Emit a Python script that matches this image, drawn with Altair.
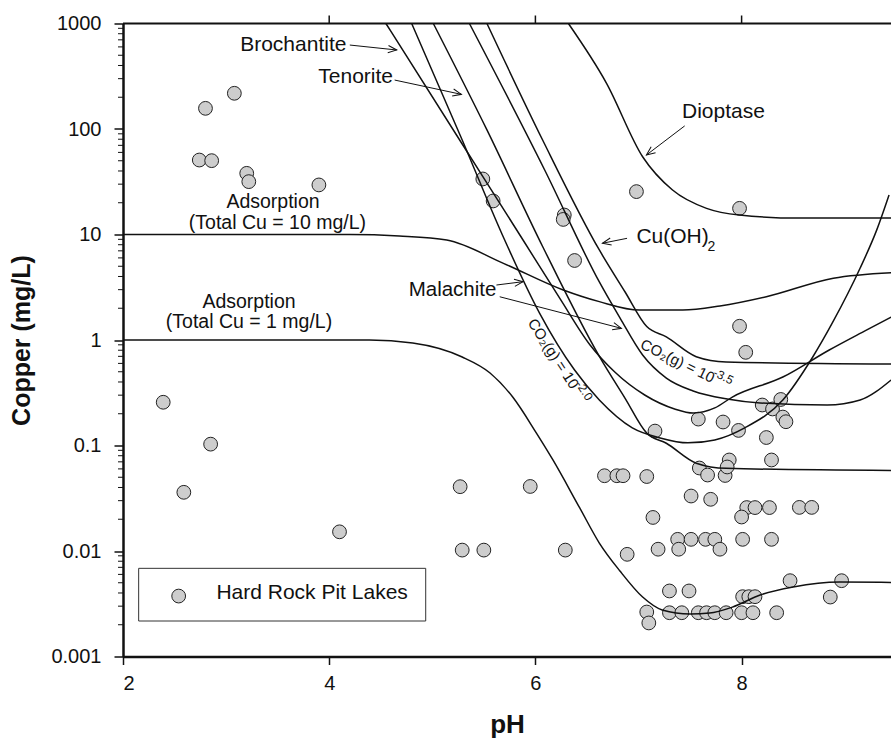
import altair as alt
import pandas as pd

FONT = "Liberation Sans, Arial, DejaVu Sans, sans-serif"
INK = "#111111"

# ---------------- Hard Rock Pit Lakes samples ----------------
pit_ph = [2.80, 3.08, 2.74, 2.86, 3.20, 3.22, 3.90,
          2.39, 2.85, 2.59, 4.10,
          5.27, 5.95, 5.29, 5.50, 6.29,
          5.49, 5.59, 6.28, 6.27, 6.38, 6.98, 7.98, 7.98, 8.04,
          7.16, 7.58, 7.82, 7.97, 8.20, 8.30, 8.38, 8.40, 8.43, 8.24, 8.29,
          7.59, 7.67, 7.84, 7.88, 7.86, 6.67, 6.79, 6.85, 7.08,
          7.51, 7.70, 8.05, 8.13, 8.27, 8.56, 8.68, 7.14, 8.00,
          7.38, 7.51, 7.65, 7.74, 8.01, 8.29, 7.19, 7.39, 7.79, 6.89,
          7.30, 7.49, 8.01, 8.07, 8.13, 8.47, 8.97, 8.86,
          7.08, 7.10, 7.30, 7.42, 7.58, 7.66, 7.74, 7.85, 8.00, 8.11, 8.34]
pit_cu = [157, 218, 50.8, 50.1, 38.0, 31.7, 29.5,
          0.257, 0.103, 0.036, 0.0152,
          0.0407, 0.0409, 0.0102, 0.0102, 0.0102,
          33.6, 20.8, 15.3, 13.9, 5.67, 25.5, 17.7, 1.35, 0.764,
          0.137, 0.178, 0.167, 0.139, 0.242, 0.222, 0.273, 0.186, 0.168, 0.119, 0.0729,
          0.0612, 0.0525, 0.052, 0.0729, 0.0626, 0.0517, 0.0517, 0.0517, 0.0508,
          0.0332, 0.0309, 0.0258, 0.0258, 0.0258, 0.0259, 0.0259, 0.0208, 0.021,
          0.0129, 0.0129, 0.0129, 0.0129, 0.0129, 0.0129, 0.0104, 0.0104, 0.0104, 0.0093,
          0.00418, 0.00418, 0.00369, 0.00369, 0.00369, 0.00523, 0.00523, 0.00366,
          0.00264, 0.00208, 0.0026, 0.0026, 0.0026, 0.0026, 0.0026, 0.0026, 0.0026, 0.0026, 0.0026]

# ---------------- Solubility / adsorption curves ----------------
brochantite_ph = [4.55, 5.29, 5.88, 6.24, 6.53, 6.77, 7.06, 7.35, 7.53, 7.74, 7.91, 8.40, 8.85, 9.21, 9.45]
brochantite_cu = [1000, 72.1, 8.87, 2.45, 0.897, 0.497, 0.301, 0.222, 0.203, 0.227, 0.288, 0.446, 0.804, 1.24, 1.65]

malachite2_ph = [4.80, 5.29, 5.68, 6.04, 6.38, 6.62, 6.94, 7.21, 7.48, 7.74, 8.03, 8.40, 8.69, 8.88, 9.15, 9.31, 9.43]
malachite2_cu = [1000, 78.7, 9.89, 1.80, 0.519, 0.270, 0.147, 0.118, 0.106, 0.113, 0.147, 0.270, 0.690, 1.45, 4.81, 11.0, 23.7]

tenorite_ph = [5.01, 5.53, 6.07, 6.62, 6.87, 7.08, 7.27, 7.56, 7.85, 9.45]
tenorite_cu = [1000, 98, 7.7, 0.70, 0.28, 0.131, 0.105, 0.068, 0.0607, 0.058]

malachite35_ph = [5.36, 6.09, 6.62, 6.82, 7.04, 7.27, 7.53, 7.86, 8.18, 8.83, 9.15, 9.45]
malachite35_cu = [1000, 40.9, 3.55, 1.62, 0.721, 0.436, 0.329, 0.276, 0.253, 0.242, 0.270, 0.418]

cuoh2_ph = [5.53, 6.07, 6.62, 6.87, 7.08, 7.27, 7.56, 7.85, 9.45]
cuoh2_cu = [1000, 78.7, 7.13, 2.85, 1.34, 1.07, 0.695, 0.619, 0.592]

dioptase_ph = [6.32, 6.69, 7.04, 7.33, 7.66, 7.98, 8.56, 9.45]
dioptase_cu = [1000, 271, 54.6, 26.4, 17.7, 15.3, 14.3, 14.3]

ads10_ph = [2.0, 4.20, 4.68, 5.14, 5.69, 6.27, 6.62, 7.01, 7.43, 7.79, 8.24, 8.89, 9.45]
ads10_cu = [10, 10, 9.68, 8.87, 5.33, 2.98, 2.31, 1.92, 1.92, 2.10, 2.57, 3.85, 4.34]

ads1_ph = [2.0, 4.39, 4.81, 5.29, 5.56, 5.78, 6.01, 6.17, 6.43, 6.62, 6.82, 7.04, 7.23, 7.50, 7.69, 7.91, 8.18, 8.50, 8.95, 9.45]
ads1_cu = [1, 1, 0.937, 0.690, 0.487, 0.288, 0.131, 0.0729, 0.0256, 0.0119, 0.00646, 0.00366, 0.00276, 0.00253, 0.00258, 0.00294, 0.00383, 0.00456, 0.00508, 0.00503]

curves = {
    "Brochantite": (brochantite_ph, brochantite_cu),
    "Malachite CO2 10^-2.0": (malachite2_ph, malachite2_cu),
    "Tenorite": (tenorite_ph, tenorite_cu),
    "Malachite CO2 10^-3.5": (malachite35_ph, malachite35_cu),
    "Cu(OH)2": (cuoh2_ph, cuoh2_cu),
    "Dioptase": (dioptase_ph, dioptase_cu),
    "Adsorption 10": (ads10_ph, ads10_cu),
    "Adsorption 1": (ads1_ph, ads1_cu),
}

# ---------------- Annotations ----------------
label_text = ["Brochantite", "Tenorite", "Dioptase", "Cu(OH)", "2", "Malachite",
              "Adsorption", "(Total Cu = 10 mg/L)", "Adsorption", "(Total Cu = 1 mg/L)",
              "CO\u2082(g) = 10", "-2.0", "CO\u2082(g) = 10", "-3.5", "Hard Rock Pit Lakes"]
label_ph = [4.167, 4.619, 7.824, 6.98, 7.668, 5.622, 3.455, 3.498, 3.222, 3.222,
            5.961, 6.420, 7.028, 7.734, 2.906]
label_cu = [625, 313, 146, 9.4, 7.66, 2.98, 20.5, 12.9, 2.31, 1.49,
            1.55, 0.400, 0.93, 0.498, 0.00402]
label_align = ["right", "right", "center", "left", "left", "right", "center", "center", "center", "center",
               "left", "left", "left", "left", "left"]
label_angle = [0, 0, 0, 0, 0, 0, 0, 0, 0, 0, 57, 57, 26, 26, 0]
label_size = [21, 21, 21, 21, 14, 20.5, 19.5, 19.5, 19.5, 19.5, 15, 12, 15, 12, 21]

arrow_ph1 = [4.20, 4.635, 7.448, 6.889, 5.622, 5.654]
arrow_cu1 = [625, 291, 107, 9.2, 3.32, 2.57]
arrow_ph2 = [4.655, 5.282, 7.077, 6.650, 5.880, 6.834]
arrow_cu2 = [561, 213, 56.7, 8.26, 3.57, 1.29]
arrow_dir = [6.1, 12.1, 142.9, 168.5, 352.9, 14.6]

legend_ph = [2.152, 4.936]
legend_cu = [0.00685, 0.00217]
legend_sym_ph = [2.540]
legend_sym_cu = [0.00374]

x_ticks = [2, 4, 6, 8]
y_ticks = [0.001, 0.01, 0.1, 1, 10, 100, 1000]
minor_cu = [m * d for d in [0.001, 0.01, 0.1, 1, 10, 100] for m in range(2, 10)]

# ---------------- Chart ----------------
W, H = 768, 633
xs = alt.Scale(domain=[2, 9.449], nice=False, zero=False)
ys = alt.Scale(type="log", domain=[0.001, 1000], nice=False)

xaxis = alt.Axis(values=x_ticks, format="d", grid=False, title="pH",
                 labelFont=FONT, labelFontSize=20, labelColor=INK, labelPadding=9,
                 tickSize=8, tickWidth=1.5, tickColor=INK,
                 domainColor=INK, domainWidth=2.5,
                 titleFont=FONT, titleFontSize=26, titleFontWeight="bold", titleColor=INK,
                 titleY=76, titleBaseline="alphabetic")
yaxis = alt.Axis(values=y_ticks, format="~g", grid=False, title="Copper (mg/L)",
                 labelFont=FONT, labelFontSize=20, labelColor=INK, labelPadding=13,
                 tickSize=9, tickWidth=1.5, tickColor=INK,
                 domainColor=INK, domainWidth=2.5,
                 titleFont=FONT, titleFontSize=25, titleFontWeight="bold", titleColor=INK,
                 titleX=-94, titleY=H / 2, titleAngle=270, titleAlign="center",
                 titleBaseline="alphabetic")


def X(field="pH"):
    return alt.X(f"{field}:Q", scale=xs, axis=xaxis)


def Y(field="Cu"):
    return alt.Y(f"{field}:Q", scale=ys, axis=yaxis)


pts = pd.DataFrame({"pH": pit_ph, "Cu": pit_cu})
scatter = alt.Chart(pts).mark_circle(size=190, fill="#cdcdcd", stroke="#222222",
                                     strokeWidth=1, opacity=1).encode(x=X(), y=Y())

rows = []
for name, (phs, cus) in curves.items():
    for i, (p, c) in enumerate(zip(phs, cus)):
        rows.append({"curve": name, "pH": p, "Cu": c, "i": i})
cdf = pd.DataFrame(rows)
lines = alt.Chart(cdf).mark_line(interpolate="monotone", color=INK, strokeWidth=1.5,
                                 clip=True).encode(
    x=X(), y=Y(), detail="curve:N", order="i:Q")

adf = pd.DataFrame({"pH": arrow_ph1, "Cu": arrow_cu1, "pH2": arrow_ph2, "Cu2": arrow_cu2,
                    "ang": arrow_dir})
shafts = alt.Chart(adf).mark_rule(color=INK, strokeWidth=1).encode(
    x=X(), y=Y(), x2=alt.X2("pH2:Q"), y2=alt.Y2("Cu2:Q"))
heads = alt.Chart(adf).mark_point(shape="M-1,-0.42L0,0L-1,0.42", filled=False, color=INK,
                                  strokeWidth=1, size=300, opacity=1).encode(
    x=X("pH2"), y=Y("Cu2"), angle=alt.Angle("ang:Q", scale=None))

texts = []
for t, p, c, al, an, fs in zip(label_text, label_ph, label_cu, label_align, label_angle, label_size):
    d = pd.DataFrame({"t": [t], "pH": [p], "Cu": [c]})
    texts.append(alt.Chart(d).mark_text(align=al, baseline="middle", angle=an, fontSize=fs,
                                        font=FONT, color=INK).encode(
        x=X(), y=Y(), text="t:N"))

ldf = pd.DataFrame({"pH": [legend_ph[0]], "pH2": [legend_ph[1]],
                    "Cu": [legend_cu[0]], "Cu2": [legend_cu[1]]})
legend_box = alt.Chart(ldf).mark_rect(fill="white", stroke="#333333", strokeWidth=1).encode(
    x=X(), x2=alt.X2("pH2:Q"), y=Y(), y2=alt.Y2("Cu2:Q"))
legend_sym = alt.Chart(pd.DataFrame({"pH": legend_sym_ph, "Cu": legend_sym_cu})).mark_circle(
    size=190, fill="#cdcdcd", stroke="#222222", strokeWidth=1, opacity=1).encode(x=X(), y=Y())

minor = alt.Chart(pd.DataFrame({"Cu": minor_cu})).mark_rule(color=INK, strokeWidth=1).encode(
    y=Y(), x=alt.value(-5), x2=alt.value(0))
top_ticks = alt.Chart(pd.DataFrame({"pH": x_ticks[1:]})).mark_rule(color=INK, strokeWidth=1.5).encode(
    x=X(), y=alt.value(-8), y2=alt.value(0))
top_line = alt.Chart(pd.DataFrame({"pH": [2]})).mark_rule(color=INK, strokeWidth=2).encode(
    x=alt.value(0), x2=alt.value(W), y=alt.value(0))

chart = alt.layer(scatter, legend_box, legend_sym, lines, shafts, heads, minor, top_ticks, top_line,
                  *texts).properties(
    width=W, height=H,
    padding={"left": 123, "top": 23.5, "right": 0, "bottom": 82.5},
    autosize=alt.AutoSizeParams(type="none"),
    background="white",
).configure_view(stroke=None)

chart.save("out.html", embed_options={"renderer": "svg", "actions": False})
